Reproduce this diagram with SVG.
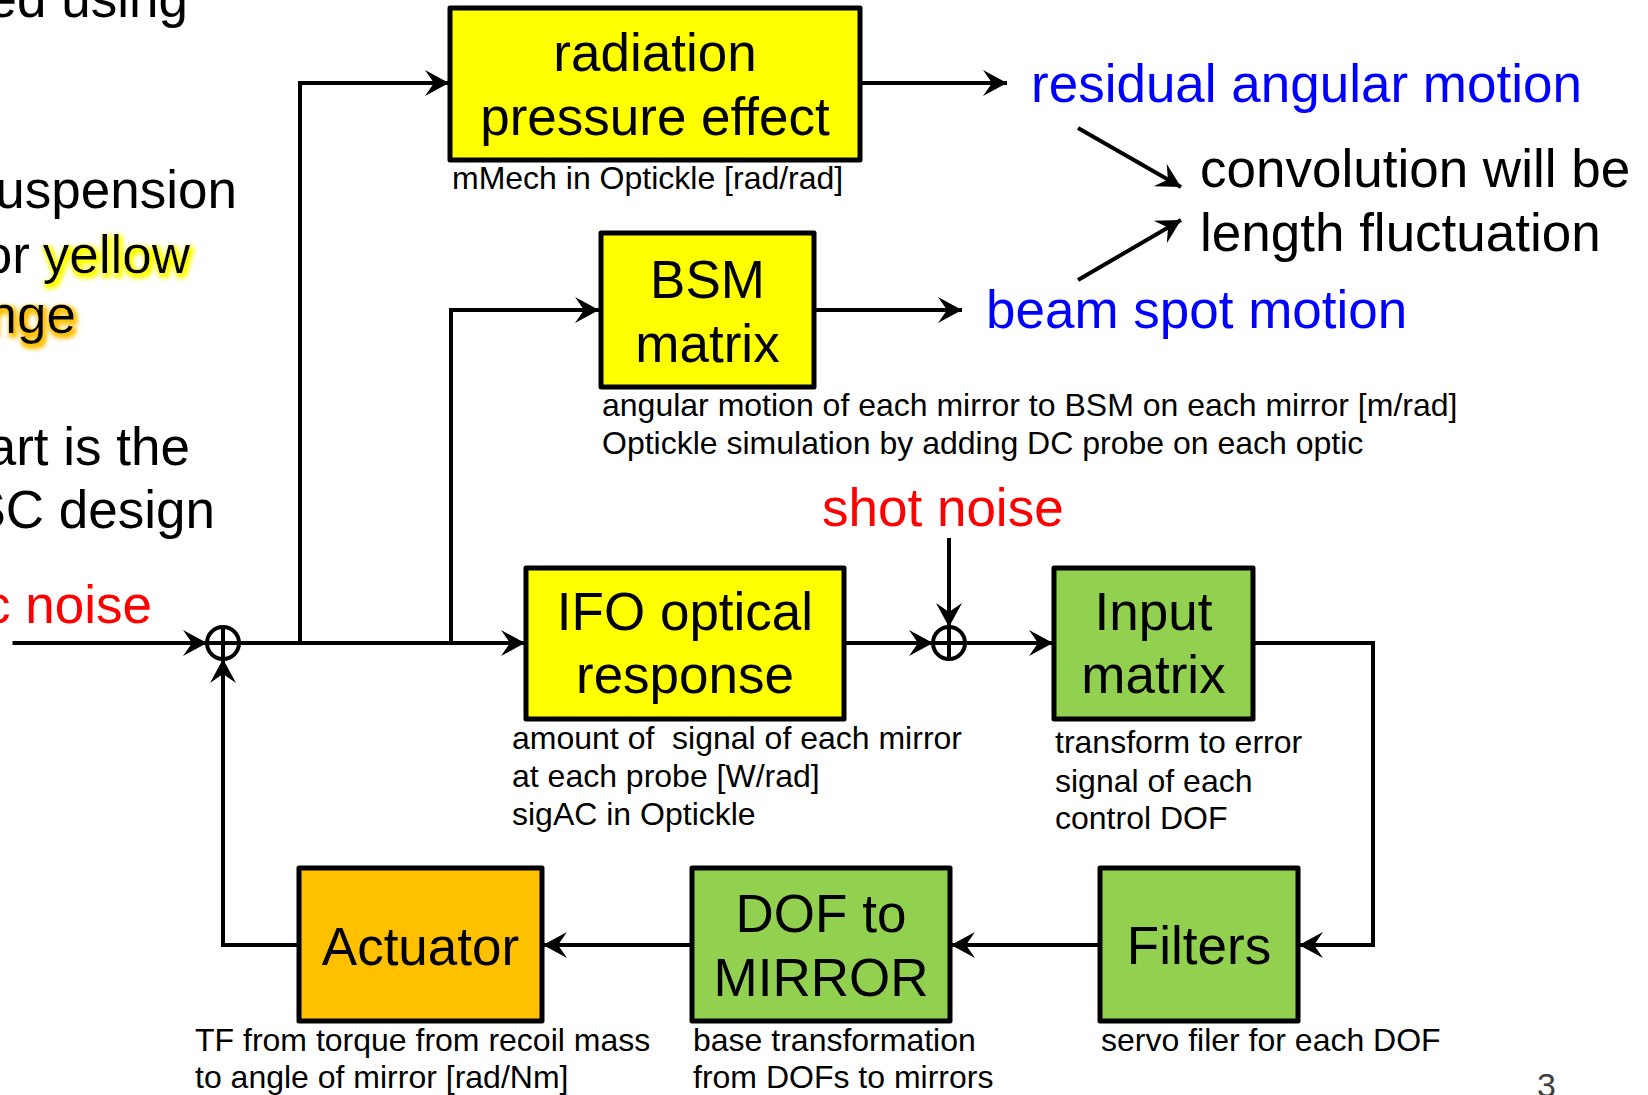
<svg xmlns="http://www.w3.org/2000/svg" width="1648" height="1095" viewBox="0 0 1648 1095">
<style>
.box{stroke:#000;stroke-width:5;stroke-linejoin:round}
.yel{fill:#FFFF00}
.grn{fill:#92D050}
.org{fill:#FFC000}
.t{font-family:"Liberation Sans",Arial,sans-serif;font-size:53px;fill:#000}
.c{text-anchor:middle}
.s{font-family:"Liberation Sans",Arial,sans-serif;font-size:32px;fill:#000}
.blue{fill:#0000FF}
.red{fill:#FF0000}
.e{text-anchor:end}
.ln{fill:none;stroke:#000;stroke-width:4;stroke-linejoin:miter}
.arr{marker-end:url(#ah)}
</style>
<defs>
<marker id="ah" markerUnits="userSpaceOnUse" markerWidth="30" markerHeight="30" viewBox="-26 -15 28 30" refX="0" refY="0" orient="auto" overflow="visible">
<path d="M0,0 L-24,-13 L-15,0 L-24,13 Z" fill="#000"/>
</marker>
<filter id="glowY" x="-10%" y="-30%" width="125%" height="170%">
<feMorphology in="SourceAlpha" operator="dilate" radius="1.5" result="d"/>
<feGaussianBlur in="d" stdDeviation="2" result="b"/>
<feOffset in="b" dx="2" dy="3" result="o"/>
<feFlood flood-color="#FFFF00"/>
<feComposite in2="o" operator="in" result="g"/>
<feMerge><feMergeNode in="g"/><feMergeNode in="SourceGraphic"/></feMerge>
</filter>
<filter id="glowO" x="-10%" y="-30%" width="125%" height="170%">
<feMorphology in="SourceAlpha" operator="dilate" radius="1.5" result="d"/>
<feGaussianBlur in="d" stdDeviation="2" result="b"/>
<feOffset in="b" dx="2" dy="3" result="o"/>
<feFlood flood-color="#FFC000"/>
<feComposite in2="o" operator="in" result="g"/>
<feMerge><feMergeNode in="g"/><feMergeNode in="SourceGraphic"/></feMerge>
</filter>
</defs>
<rect width="1648" height="1095" fill="#fff"/>

<g id="slide-text">
<text class="t e" x="188" y="17">ed using</text>
<text class="t e" x="237" y="208">uspension</text>
<text class="t e" x="30" y="273">or</text>
<text class="t e" x="190" y="273" filter="url(#glowY)">yellow</text>
<text class="t e" x="76" y="333" filter="url(#glowO)">nge</text>
<text class="t e" x="190" y="465">art is the</text>
<text class="t e" x="215" y="528">SC design</text>
<text class="t e red" x="152" y="623">c noise</text>
<text x="1537" y="1097" style="font-family:'Liberation Sans',Arial,sans-serif;font-size:34px;fill:#404040">3</text>
</g>

<g id="connectors">
<path class="ln arr" d="M12.5,643 H207"/>
<path class="ln arr" d="M239,643 H525"/>
<path class="ln arr" d="M300,643 V83 H449"/>
<path class="ln arr" d="M451,643 V310 H599"/>
<path class="ln arr" d="M860,83 H1007"/>
<path class="ln arr" d="M814,310 H962"/>
<path class="ln arr" d="M844,643 H933"/>
<path class="ln arr" d="M949,538 V627"/>
<path class="ln arr" d="M965,643 H1053"/>
<path class="ln arr" d="M1253,643 H1373 V945 H1299"/>
<path class="ln arr" d="M1099,945 H951"/>
<path class="ln arr" d="M691,945 H543"/>
<path class="ln arr" d="M298,945 H223 V659"/>
<path class="ln arr" d="M1078,128 L1181,187"/>
<path class="ln arr" d="M1078,280 L1181,220"/>
</g>

<g id="sum1">
<circle cx="223" cy="643" r="16" fill="none" stroke="#000" stroke-width="4"/>
<path d="M223,627 V659 M207,643 H239" stroke="#000" stroke-width="4"/>
</g>
<g id="sum2">
<circle cx="949" cy="643" r="16" fill="none" stroke="#000" stroke-width="4"/>
<path d="M949,627 V659 M933,643 H965" stroke="#000" stroke-width="4"/>
</g>

<g id="radiation">
<rect class="box yel" x="450" y="8" width="410" height="152"/>
<text class="t c" x="655" y="71">radiation</text>
<text class="t c" x="655" y="135">pressure effect</text>
<text class="s" x="452" y="189">mMech in Optickle [rad/rad]</text>
</g>

<g id="bsm">
<rect class="box yel" x="601" y="233" width="213" height="154"/>
<text class="t c" x="707.5" y="298">BSM</text>
<text class="t c" x="707.5" y="362">matrix</text>
<text class="s" x="602" y="416">angular motion of each mirror to BSM on each mirror [m/rad]</text>
<text class="s" x="602" y="454">Optickle simulation by adding DC probe on each optic</text>
</g>

<g id="ifo">
<rect class="box yel" x="526" y="568" width="318" height="151"/>
<text class="t c" x="685" y="630">IFO optical</text>
<text class="t c" x="685" y="693">response</text>
<text class="s" x="512" y="749" xml:space="preserve">amount of  signal of each mirror</text>
<text class="s" x="512" y="787">at each probe [W/rad]</text>
<text class="s" x="512" y="825">sigAC in Optickle</text>
</g>

<g id="input">
<rect class="box grn" x="1054" y="568" width="199" height="151"/>
<text class="t c" x="1153.5" y="630">Input</text>
<text class="t c" x="1153.5" y="693">matrix</text>
<text class="s" x="1055" y="753">transform to error</text>
<text class="s" x="1055" y="792">signal of each</text>
<text class="s" x="1055" y="829">control DOF</text>
</g>

<g id="filters">
<rect class="box grn" x="1100" y="868" width="198" height="153"/>
<text class="t c" x="1199" y="964">Filters</text>
<text class="s" x="1101" y="1051">servo filer for each DOF</text>
</g>

<g id="dof">
<rect class="box grn" x="692" y="868" width="258" height="153"/>
<text class="t c" x="821" y="932">DOF to</text>
<text class="t c" x="821" y="996">MIRROR</text>
<text class="s" x="693" y="1051">base transformation</text>
<text class="s" x="693" y="1088">from DOFs to mirrors</text>
</g>

<g id="actuator">
<rect class="box org" x="299" y="868" width="243" height="153"/>
<text class="t c" x="420.5" y="965">Actuator</text>
<text class="s" x="195" y="1051">TF from torque from recoil mass</text>
<text class="s" x="195" y="1088">to angle of mirror [rad/Nm]</text>
</g>

<g id="outputs">
<text class="t blue" x="1031" y="102">residual angular motion</text>
<text class="t blue" x="986" y="328">beam spot motion</text>
<text class="t red" x="822" y="526">shot noise</text>
<text class="t" x="1200" y="187">convolution will be</text>
<text class="t" x="1200" y="251">length fluctuation</text>
</g>
</svg>
